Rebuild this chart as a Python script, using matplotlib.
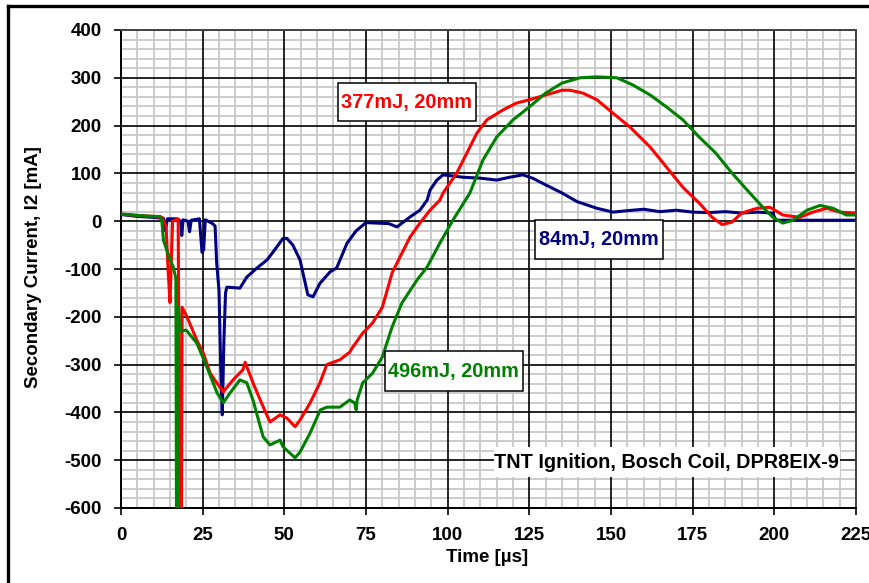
import numpy as np
from matplotlib import pyplot as plt
from matplotlib.lines import Line2D
from matplotlib.patches import Rectangle
from matplotlib.ticker import MultipleLocator

# 84mJ, 20mm
t_84 = [0, 5, 10, 13, 13.6, 14.2, 17, 18.3, 18.6, 19, 20.5, 21, 21.5, 24, 24.8, 25.3, 25.8,
        28, 28.8, 29.3, 30, 30.5, 31, 31.5, 32, 32.4, 36.4, 38.5, 41.6, 44.7, 46.5, 49.6,
        50.8, 52.6, 54.8, 57.2, 58.8, 60.9, 64, 66, 69.2, 72, 75, 82, 84.5, 88.5, 91.5,
        93.7, 94.6, 96.7, 98.6, 104.7, 110, 115, 119, 123, 126, 130, 135, 139.6, 145.7,
        150.6, 155, 160, 165, 170, 175, 180, 185, 190, 195, 199.5, 200.5, 210, 225]
i_84 = [14, 10, 8, 6, -20, 5, 5, 0, -30, 3, 0, -22, 2, 5, -65, -60, 3,
        -5, -10, -88, -145, -300, -405, -250, -150, -138, -140, -117, -98, -81, -65, -36,
        -36, -50, -81, -154, -158, -130, -106, -98, -46, -20, -3, -5, -12, 9, 23,
        44, 65, 86, 97, 92, 90, 86, 92, 97, 90, 76, 59, 41, 27,
        19, 22, 25, 20, 23, 19, 18, 20, 17, 19, 17, 2, 2, 2]

# 377mJ, 20mm
t_377 = [0, 5, 10, 12.5, 13.8, 14.4, 15, 15.5, 15.8, 17.5, 18, 18.5, 18.7, 20.2, 23.2, 25.2,
         27.3, 29.5, 31.3, 34.3, 37.3, 38, 40.4, 43.5, 45.6, 48.7, 50.8, 53.3, 54.8, 57.9,
         60.9, 63, 67, 70, 71, 74, 77, 80, 83, 85.4, 88.5, 91.5, 94.6, 97.6, 98.6, 102.8,
         105.9, 109, 112, 117, 121, 125, 130, 135, 137.4, 141.4, 145.7, 150.6, 155.8, 162,
         167, 172, 177, 181, 184, 187, 190, 194.7, 198.7, 202.6, 207.8, 211.8, 216, 220, 225]
i_377 = [15, 12, 10, 8, -10, -100, -170, -60, 0, 5, -650, -650, -180, -200, -249, -276,
         -318, -340, -357, -332, -311, -295, -338, -388, -420, -405, -412, -430, -416, -380,
         -338, -300, -290, -274, -263, -234, -213, -180, -108, -75, -33, -4, 23, 44, 59, 101,
         143, 185, 212, 233, 247, 254, 264, 274, 274, 268, 254, 226, 197, 155,
         113, 71, 38, 8, -7, -2, 17, 27, 29, 13, 8, 19, 27, 19, 17]

# 496mJ, 20mm
t_496 = [0, 5, 10, 12, 12.5, 13, 14, 15, 16, 16.8, 17, 17.4, 17.6, 18, 20, 23.2, 26,
         29.4, 31.3, 33.4, 36.4, 38.5, 40.4, 43.5, 45.6, 48.7, 49.6, 53.3, 54.8, 57.9, 61,
         63, 67, 70, 71.5, 72, 72.3, 74, 77, 80, 83, 86, 90.6, 93.7, 97.6, 101.6, 106.8,
         110.8, 115, 120, 125, 130, 135, 140.5, 145.7, 151.8, 156.7, 162, 167, 172, 177,
         182, 187, 192.5, 196.5, 199.6, 202.6, 205.7, 210, 214, 218, 222, 225]
i_496 = [15, 12, 10, 10, 0, -40, -60, -80, -96, -120, -650, -650, -180, -230, -228, -255, -300,
         -359, -380, -359, -332, -338, -374, -451, -468, -458, -472, -495, -483, -443, -395,
         -389, -389, -374, -380, -395, -374, -338, -318, -284, -221, -171, -123, -96, -46, 2, 59,
         128, 176, 212, 239, 268, 289, 300, 302, 300, 285, 264, 239, 212, 176,
         143, 101, 59, 29, 8, -4, 2, 23, 33, 27, 13, 13]

x_ticks = np.arange(0, 226, 25)
y_ticks = np.arange(-600, 401, 100)

plt.rcParams['font.family'] = ['Liberation Sans', 'DejaVu Sans']
plt.rcParams['axes.unicode_minus'] = False

fig = plt.figure(figsize=(8.7, 5.83), dpi=100)
ax = fig.add_axes([121 / 870, 75 / 583, 735 / 870, 478 / 583])

# 外枠
fig.add_artist(Line2D([8 / 870, 1.0], [1 - 6 / 583, 1 - 6 / 583], color='black', lw=2.4))
fig.add_artist(Line2D([8 / 870, 8 / 870], [0.0, 1 - 6 / 583], color='black', lw=2.4))

ax.plot(t_84, i_84, color='#000080', lw=2.2, zorder=3)
ax.plot(t_377, i_377, color='#ff0000', lw=2.2, zorder=4)
ax.plot(t_496, i_496, color='#008000', lw=2.2, zorder=5)

ax.set_xlim(0, 225)
ax.set_ylim(-600, 400)
ax.set_xticks(x_ticks)
ax.set_yticks(y_ticks)
ax.xaxis.set_minor_locator(MultipleLocator(5))
ax.yaxis.set_minor_locator(MultipleLocator(20))

# グリッド (補助線はグレー、主線は黒で上に重ねる)
ax.grid(which='minor', color='#c8c8c8', lw=1.3)
ax.set_axisbelow(True)
for xv in x_ticks:
    ax.axvline(xv, color='black', lw=1.2, zorder=1.5)
for yv in y_ticks:
    ax.axhline(yv, color='black', lw=1.2, zorder=1.5)

ax.tick_params(which='major', direction='out', length=5, width=1.2, pad=9,
               labelsize=13.5)
ax.tick_params(which='minor', length=0)
for lbl in ax.get_xticklabels() + ax.get_yticklabels():
    lbl.set_fontweight('bold')

for side in ['left', 'bottom']:
    ax.spines[side].set_color('black')
    ax.spines[side].set_linewidth(1.4)
for side in ['top', 'right']:
    ax.spines[side].set_color('#444444')
    ax.spines[side].set_linewidth(1.4)
for sp in ax.spines.values():
    sp.set_zorder(2)

ax.set_xlabel('Time [µs]', fontsize=13.5, fontweight='bold', va='center')
ax.xaxis.set_label_coords(0.4985, -0.1046)
ax.set_ylabel('Secondary Current, I2 [mA]', fontsize=13.5, fontweight='bold', va='center')
ax.yaxis.set_label_coords(-0.1197, 0.504)

# ラベル (枠の大きさはピクセルで指定)
px_x = 225 / 735
px_y = 1000 / 478


def label(x, y, s, color, w, h, edge='black'):
    ax.add_patch(Rectangle((x - w * px_x / 2, y - h * px_y / 2), w * px_x, h * px_y,
                           facecolor='white', edgecolor=edge, lw=1.1, zorder=6))
    ax.text(x, y, s, color=color, fontsize=14.3, fontweight='bold',
            ha='center', va='center', zorder=7)


label(87.5, 249, '377mJ, 20mm', '#ff0000', 138, 38)
label(146.3, -39, '84mJ, 20mm', '#000080', 128, 39)
label(101.9, -314, '496mJ, 20mm', '#008000', 138, 40)
label(167.1, -504, 'TNT Ignition, Bosch Coil, DPR8EIX-9', 'black', 346, 30, edge='none')

plt.savefig('out.png', dpi=100)
